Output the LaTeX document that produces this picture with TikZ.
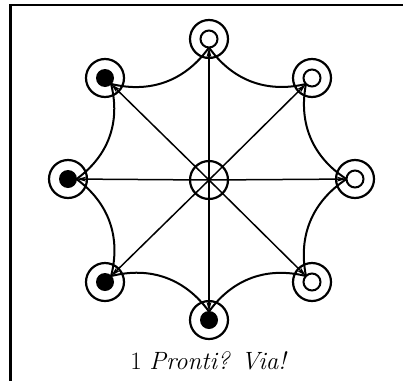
\documentclass[tikz,border=0pt]{standalone}
\usetikzlibrary{arrows.meta,calc}
\begin{document}
\begin{tikzpicture}[x=1pt,y=1pt,
  ring/.style={circle,draw,line width=2.2pt,minimum size=38pt,inner sep=0pt},
  hole/.style={circle,draw,line width=2pt,minimum size=17pt,inner sep=0pt},
  dot/.style={circle,fill,minimum size=18pt,inner sep=0pt},
  spoke/.style={line width=1.5pt,-{Stealth[length=10pt,width=5pt]}},
  arcline/.style={line width=2pt},
  frame/.style={line width=2.6pt}]
\useasboundingbox (0,0) rectangle (403,-380);
\draw[frame] (10.5,-385) -- (10.5,-5) -- (410,-5);
% centre
\node[ring] (C) at (209,-180) {};
% outer rings
\node[ring] (N)  at (209,-39) {};
\node[ring] (NE) at (312,-78) {};
\node[ring] (E)  at (355,-179) {};
\node[ring] (SE) at (312,-282) {};
\node[ring] (S)  at (209,-320) {};
\node[ring] (SW) at (105,-282) {};
\node[ring] (W)  at (68,-179) {};
\node[ring] (NW) at (105,-78) {};
% inner marks
\node[hole] (hN)  at (N) {};
\node[hole] (hNE) at (NE) {};
\node[hole] (hE)  at (E) {};
\node[hole] (hSE) at (SE) {};
\node[dot] (dS)  at (S) {};
\node[dot] (dSW) at (SW) {};
\node[dot] (dW)  at (W) {};
\node[dot] (dNW) at (NW) {};
% tip points
\foreach \n in {N,NE,E,SE,S,SW,W,NW}{
  \coordinate (t\n) at ($(\n.center)!8.5pt!(C.center)$);
}
% spokes
\foreach \n in {N,NE,E,SE,S,SW,W,NW}{
  \draw[spoke] (C.center) -- (t\n);
}
% curved rim
\draw[arcline] (tN) to[bend right=34] (tNE);
\draw[arcline] (tNE) to[bend right=34] (tE);
\draw[arcline] (tE) to[bend right=34] (tSE);
\draw[arcline] (tSE) to[bend right=34] (tS);
\draw[arcline] (tS) to[bend right=34] (tSW);
\draw[arcline] (tSW) to[bend right=34] (tW);
\draw[arcline] (tW) to[bend right=34] (tNW);
\draw[arcline] (tNW) to[bend right=34] (tN);
% caption
\node (cap) at (209,-361) {\fontsize{25}{30}\selectfont 1 \textit{Pronti? Via!}};
\end{tikzpicture}
\end{document}
